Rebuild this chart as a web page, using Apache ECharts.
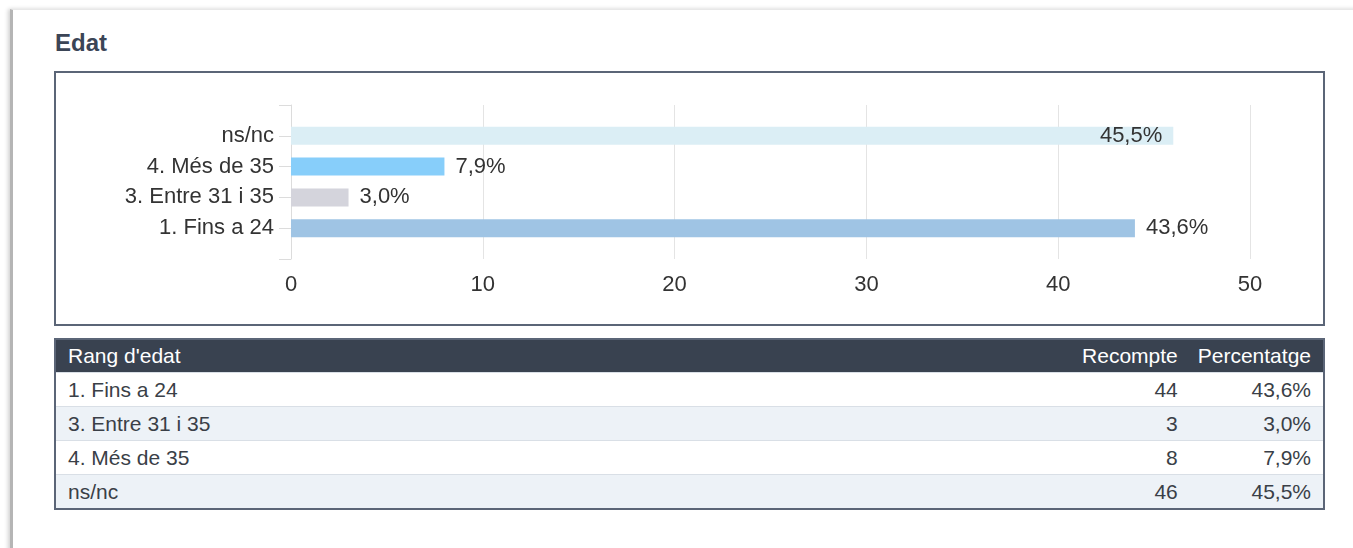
<!DOCTYPE html>
<html>
<head>
  <meta charset="utf-8">
  <title>Edat</title>
  <script src="https://cdn.jsdelivr.net/npm/echarts@6/dist/echarts.min.js"></script>
  <style>
    body { margin: 0; background: #fff; font-family: "Liberation Sans", Arial, sans-serif; }
    #card { position: absolute; left: 10px; top: 9px; width: 1350px; height: 560px;
            border-left: 3px solid #b5b5b5; border-top: 1px solid #e8e8e8;
            box-shadow: -2px 0 4px rgba(0,0,0,0.18); }
    #title { position: absolute; left: 55px; top: 31px; margin: 0; font-size: 24px;
             font-weight: bold; color: #3b4556; line-height: 24px; }
    #box { position: absolute; left: 54px; top: 71px; width: 1267px; height: 251px;
           border: 2px solid #5b6577; }
    #main { width: 1267px; height: 251px; }
    #tbl { position: absolute; left: 54px; top: 338px; width: 1271px; border-collapse: collapse;
           border: 2px solid #5b6577; font-size: 21px; color: #3a3f47; }
    #tbl th { background: #394250; color: #fff; font-weight: normal; height: 32px; padding: 0 12px; }
    #tbl td { height: 33px; padding: 0 12px; border-top: 1px solid #d9dfe6; }
    #tbl .c2 { padding-right: 8px; }
    #tbl tr.alt td { background: #edf2f7; }
  </style>
</head>
<body>
<div id="card"></div>
<h2 id="title">Edat</h2>
<div id="box"><div id="main"></div></div>
<table id="tbl"></table>

<script type="text/javascript">
  // dades
  var categories = ['1. Fins a 24', '3. Entre 31 i 35', '4. Més de 35', 'ns/nc'];
  var counts = [44, 3, 8, 46];
  var percents = [43.6, 3.0, 7.9, 45.5];
  var barColors = ['#9fc4e4', '#d4d4dc', '#87cefa', '#dbeef5'];
  var xTicks = [0, 10, 20, 30, 40, 50];

  function fmtPct(v) {
    return v.toFixed(1).replace('.', ',') + '%';
  }

  // eix amb una categoria buida a dalt i a baix
  var yData = [''].concat(categories).concat(['']);
  var barData = [null];
  for (var i = 0; i < categories.length; i++) {
    barData.push({
      value: counts[i],
      itemStyle: {color: barColors[i]},
      label: {
        position: counts[i] >= 45 ? 'insideRight' : 'right',
        formatter: fmtPct(percents[i])
      }
    });
  }
  barData.push(null);

  var myChart = echarts.init(document.getElementById('main'));
  var option = {
    animation: false,
    textStyle: {fontFamily: '"Liberation Sans", Arial, sans-serif'},
    grid: {left: 235, right: 73, top: 32, height: 154},
    xAxis: {
      type: 'value',
      min: xTicks[0],
      max: xTicks[xTicks.length - 1],
      interval: 10,
      axisLine: {show: false},
      axisTick: {show: false},
      axisLabel: {fontSize: 22, color: '#333', margin: 15},
      splitLine: {lineStyle: {color: '#e4e4e4'}}
    },
    yAxis: {
      type: 'category',
      data: yData,
      boundaryGap: false,
      axisLine: {lineStyle: {color: '#dcdcdc'}},
      axisTick: {length: 12, lineStyle: {color: '#dcdcdc'}},
      axisLabel: {fontSize: 22, color: '#333', margin: 17},
      splitLine: {show: false}
    },
    series: [{
      type: 'bar',
      barWidth: 18,
      data: barData,
      label: {show: true, fontSize: 22, color: '#333', distance: 11}
    }]
  };
  myChart.setOption(option);

  // taula
  var html = '<tr><th style="text-align:left">Rang d\'edat</th>' +
    '<th class="c2" style="text-align:right;width:120px">Recompte</th>' +
    '<th style="text-align:right;width:111px">Percentatge</th></tr>';
  for (var k = 0; k < categories.length; k++) {
    html += '<tr' + (k % 2 ? ' class="alt"' : '') + '><td>' + categories[k] + '</td>' +
      '<td class="c2" style="text-align:right">' + counts[k] + '</td>' +
      '<td style="text-align:right">' + fmtPct(percents[k]) + '</td></tr>';
  }
  document.getElementById('tbl').innerHTML = html;
</script>
</body>
</html>
